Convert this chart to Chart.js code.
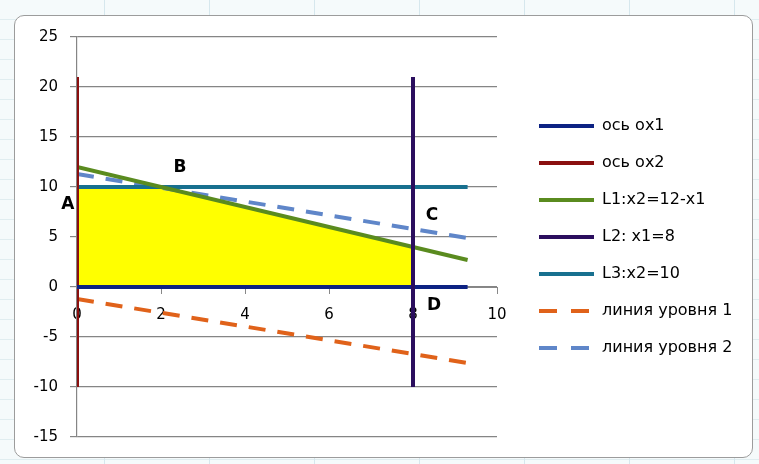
<!DOCTYPE html>
<html>
<head>
<meta charset="utf-8">
<script src="https://cdn.jsdelivr.net/npm/chart.js@4/dist/chart.umd.min.js"></script>
<style>
  html, body { margin: 0; padding: 0; }
  body {
    width: 759px; height: 464px; overflow: hidden; position: relative;
    background-color: #f5fafb;
    background-image:
      repeating-linear-gradient(90deg, transparent 0 104px, #d6e7ed 104px 105px, transparent 105px 99px),
      repeating-linear-gradient(180deg, transparent 0 19px, #e0edf0 19px 20px);
  }
  #frame {
    position: absolute; left: 14px; top: 15px; width: 737px; height: 441px;
    border: 1.5px solid #9c9c9c; border-radius: 10px; background: #fff;
  }
  #box { position: absolute; left: 15px; top: 16px; width: 738px; height: 442px; }
</style>
</head>
<body>
<div id="frame"></div>
<div id="box"><canvas id="chart"></canvas></div>
<script>
// ─── DATA ──────────────────────────────────
const seriesNames = ['ось ох1', 'ось ох2', 'L1:x2=12-x1', 'L2: x1=8', 'L3:x2=10', 'линия уровня 1', 'линия уровня 2'];

const ox1X = [0, 9.3],   ox1Y = [0, 0];
const ox2X = [0, 0],     ox2Y = [-10, 21];
const l1X  = [0, 9.3],   l1Y  = [12, 2.7];
const l2X  = [8, 8],     l2Y  = [-10, 21];
const l3X  = [0, 9.3],   l3Y  = [10, 10];
const lev1X = [0, 9.3],  lev1Y = [-1.2, -7.6];
const lev2X = [0, 9.3],  lev2Y = [11.3, 4.9];

// допустимая область (заливка)
const regionX = [0, 0, 2, 8, 8];
const regionY = [0, 10, 10, 4, 0];

// подписи точек
const pointNames = ['A', 'B', 'C', 'D'];
const pointX = [-0.22, 2.45, 8.45, 8.5];
const pointY = [8.2, 11.9, 7.15, -1.9];

const xTicks = [0, 2, 4, 6, 8, 10];
const yTicks = [-15, -10, -5, 0, 5, 10, 15, 20, 25];

const colors = ['#0d2283', '#8a0f0f', '#5a8b1f', '#2b0e5e', '#18708f', '#e0621a', '#5f86c9'];

const FONT = "'DejaVu Sans', sans-serif";

function pts(xs, ys) {
  return xs.map((x, i) => ({ x, y: ys[i] }));
}

const lines = [
  [ox1X, ox1Y], [ox2X, ox2Y], [l1X, l1Y], [l2X, l2Y], [l3X, l3Y], [lev1X, lev1Y], [lev2X, lev2Y]
];

const datasets = lines.map(([xs, ys], i) => ({
  label: seriesNames[i],
  data: pts(xs, ys),
  borderColor: colors[i],
  backgroundColor: colors[i],
  borderWidth: 4,
  borderDash: i >= 5 ? [17, 12] : [],
  pointRadius: 0,
  fill: false,
  order: i === 3 ? 0 : i + 1
}));

datasets.push({
  label: 'region',
  data: pts(regionX, regionY),
  borderWidth: 0,
  borderColor: 'transparent',
  backgroundColor: '#ffff00',
  pointRadius: 0,
  fill: 'origin',
  order: 20
});

// ─── подписи A, B, C, D ───
const pointLabels = {
  id: 'pointLabels',
  afterDatasetsDraw(chart) {
    const { ctx, scales: { x, y } } = chart;
    ctx.save();
    ctx.font = 'bold 17px ' + FONT;
    ctx.fillStyle = '#000';
    ctx.textAlign = 'center';
    ctx.textBaseline = 'middle';
    pointNames.forEach((n, i) => {
      ctx.fillText(n, x.getPixelForValue(pointX[i]), y.getPixelForValue(pointY[i]));
    });
    ctx.restore();
  }
};

// фиксированная ширина легенды
const legendWidth = {
  id: 'legendWidth',
  afterInit(chart) {
    const lg = chart.legend;
    const fit = lg.fit.bind(lg);
    lg.fit = function () { fit(); this.width = 225; };
  }
};

new Chart(document.getElementById('chart'), {
  type: 'line',
  data: { datasets },
  options: {
    responsive: true,
    maintainAspectRatio: false,
    animation: false,
    layout: { padding: { left: 10, top: 14, bottom: 14, right: 10 } },
    plugins: {
      tooltip: { enabled: false },
      legend: {
        position: 'right',
        labels: {
          usePointStyle: true,
          pointStyle: 'line',
          pointStyleWidth: 55,
          padding: 21,
          color: '#000',
          font: { family: FONT, size: 16 },
          filter: item => item.datasetIndex < 7,
          sort: (a, b) => a.datasetIndex - b.datasetIndex,
          generateLabels(chart) {
            const items = Chart.defaults.plugins.legend.labels.generateLabels(chart);
            items.forEach(it => {
              it.lineWidth = 4;
              if (it.datasetIndex >= 5) it.lineDash = [18, 14];
            });
            return items;
          }
        }
      }
    },
    scales: {
      x: {
        type: 'linear',
        position: { y: 0 },
        min: 0, max: 10,
        afterBuildTicks: s => { s.ticks = xTicks.map(v => ({ value: v })); },
        ticks: { color: '#000', font: { family: FONT, size: 15 }, padding: 13 },
        grid: { drawOnChartArea: false, drawTicks: true, tickLength: 6, color: '#888' },
        border: { color: '#888' }
      },
      y: {
        min: -15, max: 25,
        afterBuildTicks: s => { s.ticks = yTicks.map(v => ({ value: v })); },
        afterFit: s => { s.width = 52; },
        ticks: { color: '#000', font: { family: FONT, size: 15 }, padding: 12 },
        grid: { color: '#858585', lineWidth: 1.2, tickLength: 7 },
        border: { color: '#858585', width: 1.2 }
      },
      gap: {
        position: 'right',
        afterFit: s => { s.width = 21; },
        ticks: { display: false },
        grid: { display: false },
        border: { display: false }
      }
    }
  },
  plugins: [pointLabels, legendWidth]
});
</script>
</body>
</html>
